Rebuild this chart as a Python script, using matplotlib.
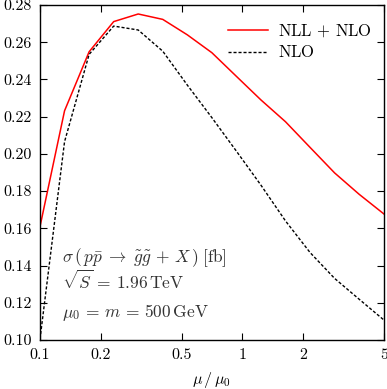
import matplotlib
matplotlib.use("Agg")
import matplotlib.pyplot as plt

# scale ratio mu/mu0 (log-spaced grid)
mu_ratio = [0.1, 0.1322, 0.1748, 0.2311, 0.3055, 0.4039, 0.534, 0.706,
            0.933, 1.234, 1.631, 2.157, 2.851, 3.77, 5.0]

# cross sections in fb
nll_nlo = [0.161, 0.2232, 0.2549, 0.2711, 0.2752, 0.2723, 0.2640, 0.2544,
           0.2417, 0.2290, 0.2173, 0.2035, 0.1898, 0.1783, 0.1677]
nlo = [0.1005, 0.2066, 0.2535, 0.2687, 0.2666, 0.2552, 0.2370, 0.2195,
       0.2015, 0.1832, 0.1640, 0.1470, 0.1331, 0.1219, 0.1107]

x_ticks = [0.1, 0.2, 0.5, 1, 2, 5]
x_tick_labels = ["0.1", "0.2", "0.5", "1", "2", "5"]
y_ticks = [0.10, 0.12, 0.14, 0.16, 0.18, 0.20, 0.22, 0.24, 0.26, 0.28]

plt.rcParams["font.family"] = "serif"
plt.rcParams["font.serif"] = ["cmr10", "DejaVu Serif"]
plt.rcParams["mathtext.fontset"] = "cm"
plt.rcParams["axes.formatter.use_mathtext"] = True
plt.rcParams["font.size"] = 11.5

fig = plt.figure(figsize=(3.87, 3.89), dpi=100)
ax = fig.add_axes([0.1034, 0.126, 0.8888, 0.861])

ax.plot(mu_ratio, nll_nlo, color="#ff0000", lw=1.1,
        label=r"$\mathrm{NLL}\,+\,\mathrm{NLO}$")
ax.plot(mu_ratio, nlo, color="black", lw=1.0, dashes=(2.2, 1.4),
        label=r"$\mathrm{NLO}$")

ax.set_xscale("log")
ax.set_xlim(0.1, 5)
ax.set_ylim(0.10, 0.28)

ax.set_xticks(x_ticks)
ax.set_xticklabels(x_tick_labels)
ax.xaxis.set_minor_locator(matplotlib.ticker.NullLocator())
ax.set_yticks(y_ticks)
ax.set_yticklabels([f"{v:.2f}" for v in y_ticks])

ax.tick_params(which="both", direction="in", top=True, right=True,
               length=5, width=0.8, pad=6)
for side in ax.spines.values():
    side.set_linewidth(1.0)

ax.set_xlabel(r"$\mu\,/\,\mu_0$", labelpad=6)

# Legend in the upper right, no frame
#
ax.legend(loc="upper right", bbox_to_anchor=(0.995, 0.977), frameon=False,
          fontsize=12, handlelength=2.4, handletextpad=0.6,
          labelspacing=0.3, borderaxespad=0.2)

# Process annotation
#
lines = [
    r"$\sigma\,(\,p\bar{p}\;\rightarrow\;\tilde{g}\tilde{g}\,+\,X\,)\;[\mathrm{fb}]$",
    r"$\sqrt{S}\,=\,1.96\,\mathrm{TeV}$",
    r"$\mu_0\,=\,m\,=\,500\,\mathrm{GeV}$",
]
for i, line in enumerate(lines):
    ax.text(0.064, 0.233 - i * 0.082, line, transform=ax.transAxes,
            ha="left", va="baseline", color="#333333", fontsize=12.5)

plt.savefig("out.png", dpi=100, facecolor="white")
plt.close(fig)
